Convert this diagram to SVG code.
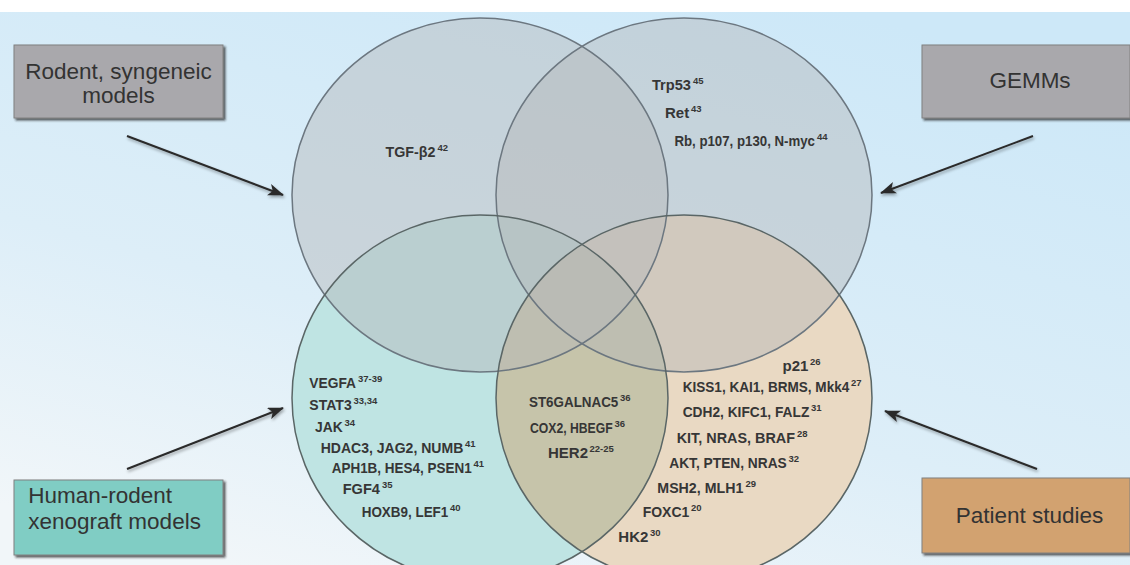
<svg xmlns="http://www.w3.org/2000/svg" width="1130" height="565" viewBox="0 0 1130 565">
<defs>
<linearGradient id="bg" x1="0.75" y1="0" x2="0.2" y2="1">
<stop offset="0" stop-color="#cde8f8"/>
<stop offset="0.6" stop-color="#ddeef8"/>
<stop offset="1" stop-color="#f1f6f9"/>
</linearGradient>
<clipPath id="clipC"><ellipse cx="480" cy="398" rx="188" ry="183"/></clipPath>
<filter id="boxsh" x="-5%" y="-10%" width="115%" height="130%">
<feDropShadow dx="2" dy="2" stdDeviation="1" flood-color="#222" flood-opacity="0.75"/>
</filter>
<filter id="arrsh" x="-10%" y="-30%" width="120%" height="160%">
<feDropShadow dx="1" dy="2" stdDeviation="1.5" flood-color="#000" flood-opacity="0.35"/>
</filter>
<marker id="ah" viewBox="0 0 16 12" refX="15" refY="6" markerWidth="16" markerHeight="12" markerUnits="userSpaceOnUse" orient="auto">
<path d="M0,0 L16,6 L0,12 L4,6 z" fill="#2a2a2a"/>
</marker>
</defs>
<style>
.top{fill:#b4b6ba;fill-opacity:0.46;stroke:none}
.ol{fill:none;stroke-width:1.5}
.olt{stroke:#6c7780}
.olb{stroke:#5a6666}
.box{stroke:#808080;stroke-width:1}
.bt{font-family:"Liberation Sans",Arial,sans-serif;font-size:22.5px;fill:#333}
.t{font-family:"Liberation Sans",Arial,sans-serif;font-size:15px;font-weight:bold;fill:#363636}
.s{font-family:"Liberation Sans",Arial,sans-serif;font-size:9.5px;font-weight:bold;fill:#363636}
.conn{stroke:#2a2a2a;stroke-width:2;fill:none;marker-end:url(#ah)}
</style>
<rect x="0" y="0" width="1130" height="565" fill="#ffffff"/>
<rect x="0" y="12" width="1130" height="553" fill="url(#bg)"/>

<g id="circles">
<ellipse id="circle-xenograft" cx="480" cy="398" rx="188" ry="183" fill="#bfe4e3"/>
<ellipse id="circle-patient" cx="684" cy="398" rx="188" ry="183" fill="#e9d9c3"/>
<ellipse cx="684" cy="398" rx="188" ry="183" fill="#c6c4aa" clip-path="url(#clipC)"/>
<ellipse id="circle-rodent" class="top" cx="480" cy="195" rx="188" ry="177"/>
<ellipse id="circle-gemms" class="top" cx="684" cy="195" rx="188" ry="177"/>
<ellipse class="ol olt" cx="480" cy="195" rx="188" ry="177"/>
<ellipse class="ol olt" cx="684" cy="195" rx="188" ry="177"/>
<ellipse class="ol olb" cx="480" cy="398" rx="188" ry="183"/>
<ellipse class="ol olb" cx="684" cy="398" rx="188" ry="183"/>
</g>

<g id="labels-rodent">
<text class="t" x="385.5" y="157" textLength="50" lengthAdjust="spacingAndGlyphs">TGF-β2</text><text class="s" x="437.5" y="151">42</text>
</g>
<g id="labels-gemms">
<text class="t" x="652" y="90" textLength="39" lengthAdjust="spacingAndGlyphs">Trp53</text><text class="s" x="693" y="84">45</text>
<text class="t" x="665" y="118">Ret</text><text class="s" x="691" y="112">43</text>
<text class="t" x="674.4" y="146" textLength="140.6" lengthAdjust="spacingAndGlyphs">Rb, p107, p130, N-myc</text><text class="s" x="817" y="140">44</text>
</g>
<g id="labels-xenograft">
<text class="t" x="309.3" y="388" textLength="46.7" lengthAdjust="spacingAndGlyphs">VEGFA</text><text class="s" x="358" y="382">37-39</text>
<text class="t" x="309.3" y="410" textLength="42.4" lengthAdjust="spacingAndGlyphs">STAT3</text><text class="s" x="353.5" y="404">33,34</text>
<text class="t" x="315" y="431.7" textLength="27.7" lengthAdjust="spacingAndGlyphs">JAK</text><text class="s" x="344.5" y="425.7">34</text>
<text class="t" x="320.7" y="453" textLength="142.6" lengthAdjust="spacingAndGlyphs">HDAC3, JAG2, NUMB</text><text class="s" x="465" y="447">41</text>
<text class="t" x="331.7" y="473" textLength="140" lengthAdjust="spacingAndGlyphs">APH1B, HES4, PSEN1</text><text class="s" x="473.5" y="467">41</text>
<text class="t" x="342.7" y="494" textLength="37.3" lengthAdjust="spacingAndGlyphs">FGF4</text><text class="s" x="382" y="488">35</text>
<text class="t" x="361.7" y="516.7" textLength="86.6" lengthAdjust="spacingAndGlyphs">HOXB9, LEF1</text><text class="s" x="450" y="510.7">40</text>
</g>
<g id="labels-overlap">
<text class="t" x="529" y="406.7" textLength="89.3" lengthAdjust="spacingAndGlyphs">ST6GALNAC5</text><text class="s" x="620" y="400.7">36</text>
<text class="t" x="530" y="432.7" textLength="82.7" lengthAdjust="spacingAndGlyphs">COX2, HBEGF</text><text class="s" x="614.5" y="426.7">36</text>
<text class="t" x="548" y="458.3">HER2</text><text class="s" x="589.5" y="452.3">22-25</text>
</g>
<g id="labels-patient">
<text class="t" x="782.5" y="370.7">p21</text><text class="s" x="810" y="364.7">26</text>
<text class="t" x="682.7" y="392.3" textLength="166.6" lengthAdjust="spacingAndGlyphs">KISS1, KAI1, BRMS, Mkk4</text><text class="s" x="851" y="386.3">27</text>
<text class="t" x="682.7" y="417" textLength="126.6" lengthAdjust="spacingAndGlyphs">CDH2, KIFC1, FALZ</text><text class="s" x="811" y="411">31</text>
<text class="t" x="676.7" y="443" textLength="118.3" lengthAdjust="spacingAndGlyphs">KIT, NRAS, BRAF</text><text class="s" x="797" y="437">28</text>
<text class="t" x="669.3" y="468" textLength="117.4" lengthAdjust="spacingAndGlyphs">AKT, PTEN, NRAS</text><text class="s" x="788.5" y="462">32</text>
<text class="t" x="657.3" y="492.7" textLength="86" lengthAdjust="spacingAndGlyphs">MSH2, MLH1</text><text class="s" x="745.5" y="486.7">29</text>
<text class="t" x="642.7" y="517.3" textLength="46.6" lengthAdjust="spacingAndGlyphs">FOXC1</text><text class="s" x="691" y="511.3">20</text>
<text class="t" x="618.3" y="541.7">HK2</text><text class="s" x="650" y="535.7">30</text>
</g>

<g id="connectors" filter="url(#arrsh)">
<line class="conn" x1="127" y1="136" x2="283" y2="195"/>
<line class="conn" x1="1033" y1="136" x2="881" y2="193"/>
<line class="conn" x1="127" y1="469" x2="283" y2="408"/>
<line class="conn" x1="1037" y1="469" x2="885" y2="411"/>
</g>

<g id="box-rodent">
<rect class="box" x="14" y="45" width="209" height="73" fill="#a9a8ac" filter="url(#boxsh)"/>
<text class="bt" x="118.5" y="79" text-anchor="middle">Rodent, syngeneic</text>
<text class="bt" x="118.5" y="103" text-anchor="middle">models</text>
</g>
<g id="box-gemms">
<rect class="box" x="922" y="45" width="208" height="73" fill="#a9a8ac" filter="url(#boxsh)"/>
<text class="bt" x="1030" y="88" text-anchor="middle">GEMMs</text>
</g>
<g id="box-xenograft">
<rect class="box" x="14" y="480" width="209" height="75" fill="#80cdc4" filter="url(#boxsh)"/>
<text class="bt" x="28.3" y="503" fill="#24302e">Human-rodent</text>
<text class="bt" x="28.3" y="528.5" fill="#24302e">xenograft models</text>
</g>
<g id="box-patient">
<rect class="box" x="922" y="478" width="208" height="75" fill="#d2a26f" filter="url(#boxsh)"/>
<text class="bt" x="1029.5" y="523" text-anchor="middle" fill="#3a2e24">Patient studies</text>
</g>
</svg>
